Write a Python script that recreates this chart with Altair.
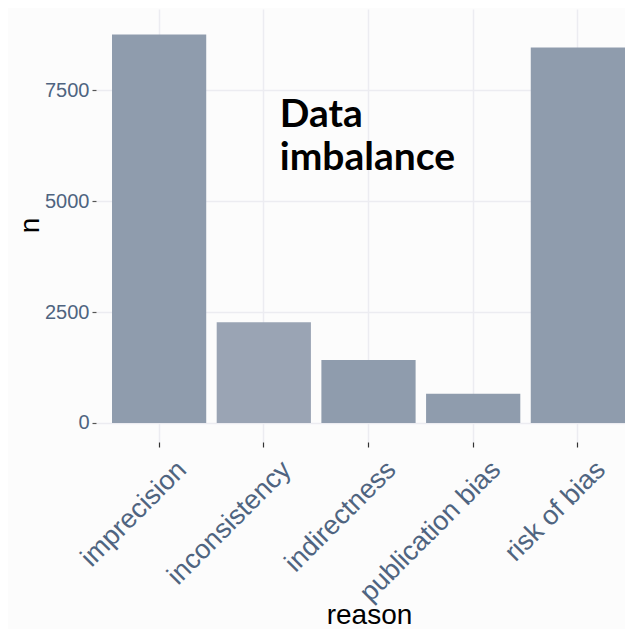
import altair as alt
import pandas as pd

reasons = ["imprecision", "inconsistency", "indirectness", "publication bias", "risk of bias"]
counts = [8753, 2268, 1420, 660, 8460]
bar_colors = ["#8f9cad", "#9aa4b4", "#8f9cad", "#8f9cad", "#8f9cad"]

annot_reason = ["inconsistency"]
annot_n = [6670]
annot_text = ["Data\nimbalance"]

df = pd.DataFrame({"reason": reasons, "n": counts})
ann = pd.DataFrame({"reason": annot_reason, "n": annot_n, "label": annot_text})

label_color = "#4f6480"
grid_color = "#ececf1"

x_enc = alt.X(
    "reason:N",
    sort=reasons,
    title="reason",
    scale=alt.Scale(paddingInner=0.1, paddingOuter=0.0764, align=1),
    axis=alt.Axis(
        labelAngle=315,
        labelAlign="right",
        labelBaseline="top",
        labelFont="Liberation Sans",
        labelFontSize=27,
        labelColor=label_color,
        labelPadding=9,
        labelOffset=14,
        labelLimit=0,
        tickColor="#333333",
        tickSize=5,
        tickWidth=1.2,
        domain=False,
        grid=True,
        gridColor=grid_color,
        gridWidth=1.5,
        bandPosition=0.5,
        titleFont="Liberation Sans",
        titleFontSize=28,
        titleFontWeight="normal",
        titleColor="#000000",
        titleX=273,
        titleY=181,
        titleAlign="center",
        titleBaseline="alphabetic",
    ),
)

y_enc = alt.Y(
    "n:Q",
    title="n",
    scale=alt.Scale(domain=[-430, 9330], nice=False, zero=False),
    axis=alt.Axis(
        values=[0, 2500, 5000, 7500],
        format="d",
        labelFont="Liberation Sans",
        labelFontSize=20,
        labelColor=label_color,
        labelPadding=3,
        tickColor="#555555",
        tickSize=4,
        tickWidth=1.2,
        domain=False,
        grid=True,
        gridColor=grid_color,
        gridWidth=1.5,
        titleFont="Liberation Sans",
        titleFontSize=28,
        titleFontWeight="normal",
        titleColor="#000000",
        titleX=-58,
        titleY=216,
        titleAlign="center",
        titleBaseline="alphabetic",
    ),
)

bars = alt.Chart(df).mark_bar().encode(
    x=x_enc,
    y=y_enc,
    y2=alt.datum(0),
    color=alt.Color("reason:N", scale=alt.Scale(domain=reasons, range=bar_colors), legend=None),
)

text = alt.Chart(ann).mark_text(
    align="left",
    baseline="alphabetic",
    dx=16,
    font="Lato",
    fontWeight="bold",
    fontSize=39,
    lineHeight=43,
    color="#000000",
    lineBreak="\n",
).encode(
    x=alt.X("reason:N", sort=reasons),
    y=alt.Y("n:Q"),
    text="label:N",
)

chart = (
    alt.layer(bars, text)
    .properties(
        width=529,
        height=433,
        background="#fcfcfc",
        padding={"left": 88, "top": 1, "right": 0, "bottom": 187},
        autosize=alt.AutoSizeParams(type="none"),
    )
    .configure_view(stroke=None, fill="#fcfcfc")
)

chart.save("out.html", embed_options={"renderer": "svg", "actions": False})
